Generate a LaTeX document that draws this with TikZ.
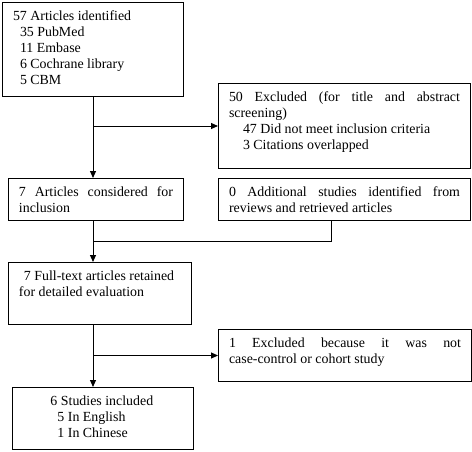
\documentclass[tikz,border=0pt]{standalone}
\usepackage{fontspec}
\setmainfont{Liberation Serif}
\usetikzlibrary{arrows.meta}
\tikzset{
stagebox/.style={draw,line width=1pt,rectangle,anchor=north west,inner xsep=10.5pt,inner ysep=8.5pt,font=\fontsize{13.9}{16}\selectfont},
flow/.style={line width=1pt,-{Triangle[length=7pt,width=6pt]}}
}
\begin{document}
\begin{tikzpicture}[x=1pt,y=-1pt]
\newcommand\stage[6]{
\node[stagebox,minimum width=#4pt,minimum height=#5pt] (#1) at (#2,#3) {\parbox[t][\dimexpr#5pt-17pt\relax][t]{\dimexpr#4pt-21pt\relax}{#6}};
}
\newcommand\spread[1]{\makebox[\linewidth][s]{#1}}
\useasboundingbox (0,0) rectangle (472,451);
% boxes
\stage{ident}{2}{2}{181}{94}{57 Articles identified\\
\hspace*{7pt}35 PubMed\\
\hspace*{7pt}11 Embase\\
\hspace*{7pt}6 Cochrane library\\
\hspace*{7pt}5 CBM}
\stage{excl1}{218}{83}{252}{85}{\spread{50 Excluded (for title and abstract}\\
screening)\\
\hspace*{14pt}47 Did not meet inclusion criteria\\
\hspace*{14pt}3 Citations overlapped}
\stage{consid}{8}{178}{175}{42}{\spread{7 Articles considered for}\\
inclusion}
\stage{addl}{218}{178}{252}{42}{\spread{0 Additional studies identified from}\\
reviews and retrieved articles}
\stage{full}{8}{262}{183}{62}{\hspace*{5pt}7 Full-text articles retained\\
for detailed evaluation}
\stage{excl2}{218}{329}{253}{52}{\spread{1 Excluded because it was not}\\
case-control or cohort study}
\stage{incl}{12}{387}{181}{62}{\hspace*{27.5pt}6 Studies included\\
\hspace*{34.5pt}5 In English\\
\hspace*{34.5pt}1 In Chinese}
% connectors
\coordinate (spine) at (93,0);
\coordinate (merge) at (331,241);
\draw[flow] (ident.south -| spine) -- (consid.north -| spine);
\draw[flow] (spine |- excl1.west) -- (excl1.west);
\draw[line width=1pt] (addl.south -| merge) -- (merge) -- (merge -| spine);
\draw[flow] (consid.south -| spine) -- (full.north -| spine);
\draw[flow] (full.south -| spine) -- (incl.north -| spine);
\draw[flow] (spine |- excl2.west) -- (excl2.west);
\end{tikzpicture}
\end{document}
